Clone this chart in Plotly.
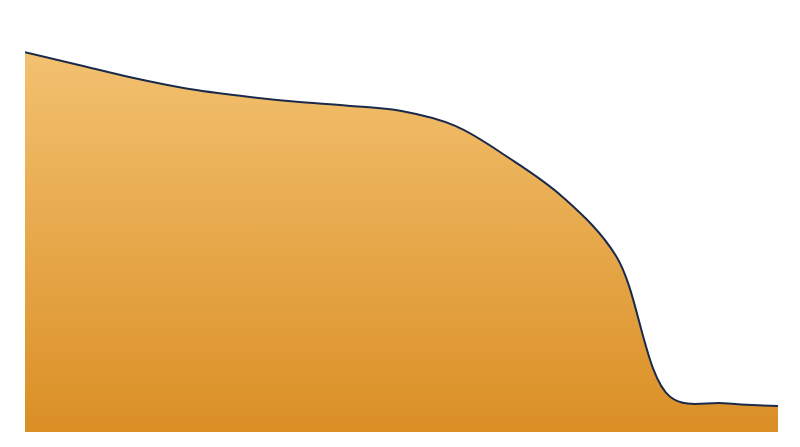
import plotly.graph_objects as go

# evenly spaced sample points along the x axis
steps = list(range(15))
values = [92.2, 89.1, 86.0, 83.4, 81.6, 80.2, 79.2, 77.9,
          74.3, 66.5, 57.0, 42.5, 8.5, 7.0, 6.3]

fig = go.Figure()
fig.add_trace(go.Scatter(
    x=steps,
    y=values,
    mode='lines',
    line=dict(color='#1B2A4A', width=2, shape='spline', smoothing=1),
    fill='tozeroy',
    fillgradient=dict(
        type='vertical',
        colorscale=[[0, '#DA8F25'], [1, '#F3C170']],
    ),
    hoverinfo='skip',
))

fig.update_layout(
    width=800,
    height=447,
    margin=dict(l=17, r=30, t=12, b=23),
    paper_bgcolor='white',
    plot_bgcolor='white',
    showlegend=False,
    xaxis=dict(visible=False, range=[0, 14]),
    yaxis=dict(visible=False, range=[0, 100]),
)

fig.write_html("out.html")
